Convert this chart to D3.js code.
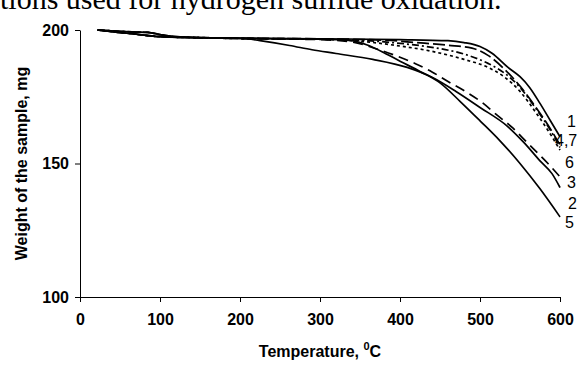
<!DOCTYPE html>
<html>
<head>
<meta charset="utf-8">
<script src="https://cdn.jsdelivr.net/npm/d3@7"></script>
<style>
body { margin: 0; background: #fff; }
svg { display: block; }
.axis text { font-family: Arial, "Liberation Sans", sans-serif; font-weight: bold; font-size: 16px; fill: #000; }
.axis path, .axis line { stroke: #000; stroke-width: 1; }
</style>
</head>
<body>
<div id="chart"></div>
<script>
// curves, [temperature C, weight mg]
var curve1 = [[22,200],[45,199.6],[65,199.3],[85,199.1],[100,198.3],[115,197.6],[150,197.2],[200,196.9],[300,196.7],[400,196.4],[460,196],[480,195.3],[500,193.8],[515,191.3],[535,186],[550,182.5],[562,178.5],[575,172.5],[588,166],[600,160]];
var curve2 = [[22,200],[45,199.2],[65,198.6],[85,197.9],[100,197.5],[130,197.2],[200,197],[225,196],[262,194.2],[290,192.6],[320,191.2],[366,189],[409,186],[440,182.3],[470,177],[500,171],[534,164],[555,157.8],[575,151],[590,146.2],[600,141]];
var curve3 = [[22,200],[45,199.2],[65,198.6],[85,197.9],[100,197.5],[130,197.2],[200,196.8],[300,196.4],[340,195.5],[370,193],[400,189.8],[420,187.3],[440,184.3],[460,180.7],[485,176.4],[502,173],[521,168.2],[541,163.3],[560,157.5],[585,150],[600,145]];
var curve4 = [[22,200],[45,199.6],[65,199.3],[85,199.1],[100,198.3],[115,197.6],[150,197.2],[200,196.9],[300,196.7],[380,196.2],[420,195.3],[460,194.3],[490,193.2],[510,190.5],[530,185.5],[550,179],[570,171],[590,162],[600,157]];
var curve5 = [[22,200],[45,199.2],[65,198.6],[85,197.9],[100,197.5],[130,197.2],[200,196.9],[300,196.6],[337,196.1],[360,194.3],[380,191.5],[400,188.3],[425,184.5],[450,180.2],[475,173.3],[500,166],[525,158.5],[550,150],[575,140.5],[600,130]];
var curve6 = [[22,200],[45,199.2],[65,198.6],[85,197.9],[100,197.5],[130,197.2],[200,196.8],[300,196.5],[350,195.8],[400,194],[440,192],[480,189],[510,186],[530,182.5],[550,177],[570,169],[590,160],[600,155]];
var curve7 = [[22,200],[45,199.6],[65,199.3],[85,199.1],[100,198.3],[115,197.6],[150,197.2],[200,196.9],[300,196.6],[360,196],[400,195],[440,193.5],[480,191],[510,187.5],[530,184],[550,178.5],[570,170.5],[590,161.5],[600,156]];

var curves = [curve1, curve2, curve3, curve4, curve5, curve6, curve7];
var dashes = [null, null, '10,6', '12,4', null, '3,3', '7,3,2,3'];

var xTicks = [0, 100, 200, 300, 400, 500, 600];
var yTicks = [100, 150, 200];

// labels at the right end of the curves (text, weight where they sit)
var endLabels = ['1', '4,7', '6', '3', '2', '5'];
var endLabelW = [163.5, 156.7, 148.5, 141, 133.1, 125.7];
var endLabelDx = [7, -5, 5, 7, 8, 5];

var width = 579, height = 365;

var x = d3.scaleLinear().domain([0, 600]).range([80, 560]);
var y = d3.scaleLinear().domain([100, 200]).range([297, 30]);

var svg = d3.select('#chart').append('svg')
    .attr('width', width)
    .attr('height', height);

// the line of body text that the figure cuts off
svg.append('text')
    .attr('x', 0)
    .attr('y', 9)
    .style('font-family', '"Liberation Serif", "Times New Roman", serif')
    .style('font-size', '30px')
    .text('tions used for hydrogen sulfide oxidation.');

svg.append('g')
    .attr('class', 'axis')
    .attr('transform', 'translate(0,' + y(100) + ')')
    .call(d3.axisBottom(x).tickValues(xTicks).tickSize(5).tickSizeOuter(0).tickPadding(12));

svg.append('g')
    .attr('class', 'axis')
    .attr('transform', 'translate(' + x(0) + ',0)')
    .call(d3.axisLeft(y).tickValues(yTicks).tickSize(5).tickSizeOuter(0).tickPadding(6));

svg.selectAll('.axis .domain').attr('stroke', '#000');

var title = svg.append('text')
    .attr('x', (x(0) + x(600)) / 2)
    .attr('y', 357)
    .style('text-anchor', 'middle')
    .style('font-family', 'Arial, "Liberation Sans", sans-serif')
    .style('font-weight', 'bold')
    .style('font-size', '16px');
title.append('tspan').text('Temperature, ');
title.append('tspan').attr('dy', -7).style('font-size', '11px').text('0');
title.append('tspan').attr('dy', 7).text('C');

svg.append('text')
    .attr('transform', 'translate(27,' + ((y(100) + y(200)) / 2) + ') rotate(-90)')
    .style('text-anchor', 'middle')
    .style('font-family', 'Arial, "Liberation Sans", sans-serif')
    .style('font-weight', 'bold')
    .style('font-size', '16px')
    .text('Weight of the sample, mg');

var line = d3.line()
    .x(function(d) { return x(d[0]); })
    .y(function(d) { return y(d[1]); })
    .curve(d3.curveMonotoneX);

svg.selectAll('.curve')
    .data(curves)
    .enter()
    .append('path')
    .attr('class', 'curve')
    .attr('fill', 'none')
    .attr('stroke', '#000')
    .attr('stroke-width', 1.7)
    .attr('stroke-dasharray', function(d, i) { return dashes[i]; })
    .attr('d', line);

svg.selectAll('.endlabel')
    .data(endLabels)
    .enter()
    .append('text')
    .attr('class', 'endlabel')
    .attr('x', function(d, i) { return x(600) + endLabelDx[i]; })
    .attr('y', function(d, i) { return y(endLabelW[i]); })
    .style('font-family', 'Arial, "Liberation Sans", sans-serif')
    .style('font-size', '16px')
    .text(function(d) { return d; });
</script>
</body>
</html>
